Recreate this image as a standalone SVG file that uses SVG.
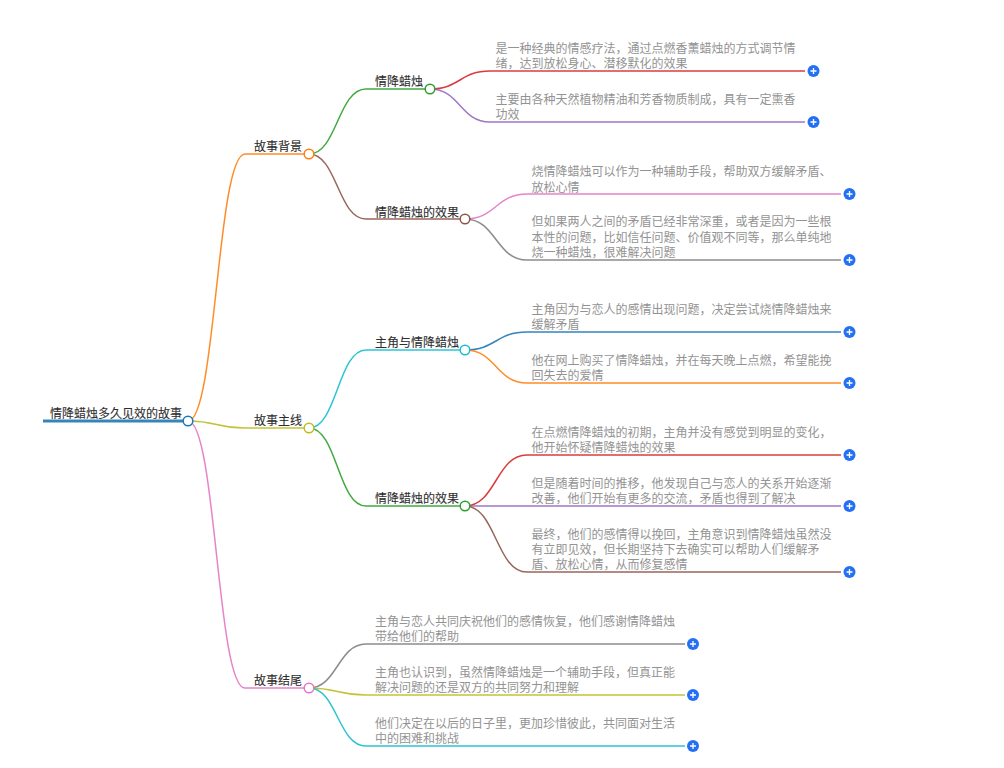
<svg xmlns="http://www.w3.org/2000/svg" width="1004" height="768" viewBox="0 0 1004 768">
<style>
text{font-family:"Noto Sans CJK SC","Liberation Sans",sans-serif;font-size:12px}
.l{fill:#2e2e2e;stroke:#2e2e2e;stroke-width:.1px}
.t{fill:#939393}
#connectors path{fill:none;stroke-width:1.5;stroke-opacity:.9}
circle.n{fill:#fff;stroke-width:1.5}
.p circle{fill:#2470f5}
.p path{stroke:#fff;stroke-width:1.3;fill:none}
</style>
<defs><g id="plus" class="p"><circle r="6"/><path d="M-3 0H3M0-3V3"/></g></defs>
<rect width="1004" height="768" fill="#fff"/>
<g id="connectors">
<path d="M43 421H183" stroke="#1f77b4" style="stroke-width:3"/>
<path d="M188 421C216 421 217 154 245 154H304" stroke="#ff7f0e"/>
<path d="M188 421C216 421 217 428 245 428H304" stroke="#bcbd22"/>
<path d="M188 421C216 421 217 688 245 688H304" stroke="#e377c2"/>
<path d="M309 154C337 154 338 89 366 89H425" stroke="#2ca02c"/>
<path d="M309 154C337 154 338 219 366 219H460" stroke="#8c564b"/>
<path d="M309 428C337 428 338 350 366 350H460" stroke="#17becf"/>
<path d="M309 428C337 428 338 506 366 506H460" stroke="#2ca02c"/>
<path d="M430 89C460 89 460 71 490 71H805" stroke="#d62728"/>
<path d="M430 89C460 89 460 122 490 122H805" stroke="#9467bd"/>
<path d="M465 219C496 219 496 194 527 194H841" stroke="#e377c2"/>
<path d="M465 219C496 219 496 260 527 260H841" stroke="#7f7f7f"/>
<path d="M465 350C496 350 496 332 527 332H841" stroke="#1f77b4"/>
<path d="M465 350C496 350 496 383 527 383H841" stroke="#ff7f0e"/>
<path d="M465 506C496 506 496 455 527 455H841" stroke="#d62728"/>
<path d="M465 506C496 506 496 506 527 506H841" stroke="#9467bd"/>
<path d="M465 506C496 506 496 572 527 572H841" stroke="#8c564b"/>
<path d="M309 688C337 688 338 644 366 644H685" stroke="#7f7f7f"/>
<path d="M309 688C337 688 338 695 366 695H685" stroke="#bcbd22"/>
<path d="M309 688C337 688 338 746 366 746H685" stroke="#17becf"/>
</g>
<g id="root"><text class="l" x="50" y="418">情降蜡烛多久见效的故事</text><circle class="n" cx="188" cy="421" r="4.8" stroke="#1f77b4"/></g>
<g id="n1"><text class="l" x="254" y="151">故事背景</text><circle class="n" cx="309" cy="154" r="4.8" stroke="#ff7f0e"/></g>
<g id="n2"><text class="l" x="254" y="425">故事主线</text><circle class="n" cx="309" cy="428" r="4.8" stroke="#bcbd22"/></g>
<g id="n3"><text class="l" x="254" y="685">故事结尾</text><circle class="n" cx="309" cy="688" r="4.8" stroke="#e377c2"/></g>
<g id="n11"><text class="l" x="375" y="86">情降蜡烛</text><circle class="n" cx="430" cy="89" r="4.8" stroke="#2ca02c"/></g>
<g id="n12"><text class="l" x="375" y="217">情降蜡烛的效果</text><circle class="n" cx="465" cy="219" r="4.8" stroke="#8c564b"/></g>
<g id="n21"><text class="l" x="375" y="347">主角与情降蜡烛</text><circle class="n" cx="465" cy="350" r="4.8" stroke="#17becf"/></g>
<g id="n22"><text class="l" x="375" y="503">情降蜡烛的效果</text><circle class="n" cx="465" cy="506" r="4.8" stroke="#2ca02c"/></g>
<g id="t1"><text class="t" x="495.500" y="53">是一种经典的情感疗法，通过点燃香薰蜡烛的方式调节情</text><text class="t" x="495.500" y="68">绪，达到放松身心、潜移默化的效果</text><use href="#plus" x="813.5" y="71"/></g>
<g id="t2"><text class="t" x="495.500" y="104">主要由各种天然植物精油和芳香物质制成，具有一定熏香</text><text class="t" x="495.500" y="119">功效</text><use href="#plus" x="813.5" y="122"/></g>
<g id="t3"><text class="t" x="531.500" y="176">烧情降蜡烛可以作为一种辅助手段，帮助双方缓解矛盾、</text><text class="t" x="531.500" y="192">放松心情</text><use href="#plus" x="849.5" y="194"/></g>
<g id="t4"><text class="t" x="531.500" y="226">但如果两人之间的矛盾已经非常深重，或者是因为一些根</text><text class="t" x="531.500" y="242">本性的问题，比如信任问题、价值观不同等，那么单纯地</text><text class="t" x="531.500" y="257">烧一种蜡烛，很难解决问题</text><use href="#plus" x="849.5" y="260"/></g>
<g id="t5"><text class="t" x="531.500" y="314">主角因为与恋人的感情出现问题，决定尝试烧情降蜡烛来</text><text class="t" x="531.500" y="329">缓解矛盾</text><use href="#plus" x="849.5" y="332"/></g>
<g id="t6"><text class="t" x="531.500" y="365">他在网上购买了情降蜡烛，并在每天晚上点燃，希望能挽</text><text class="t" x="531.500" y="380">回失去的爱情</text><use href="#plus" x="849.5" y="383"/></g>
<g id="t7"><text class="t" x="531.500" y="437">在点燃情降蜡烛的初期，主角并没有感觉到明显的变化，</text><text class="t" x="531.500" y="452">他开始怀疑情降蜡烛的效果</text><use href="#plus" x="849.5" y="455"/></g>
<g id="t8"><text class="t" x="531.500" y="488">但是随着时间的推移，他发现自己与恋人的关系开始逐渐</text><text class="t" x="531.500" y="503">改善，他们开始有更多的交流，矛盾也得到了解决</text><use href="#plus" x="849.5" y="506"/></g>
<g id="t9"><text class="t" x="531.500" y="539">最终，他们的感情得以挽回，主角意识到情降蜡烛虽然没</text><text class="t" x="531.500" y="554">有立即见效，但长期坚持下去确实可以帮助人们缓解矛</text><text class="t" x="531.500" y="569">盾、放松心情，从而修复感情</text><use href="#plus" x="849.5" y="572"/></g>
<g id="t10"><text class="t" x="375" y="626">主角与恋人共同庆祝他们的感情恢复，他们感谢情降蜡烛</text><text class="t" x="375" y="641">带给他们的帮助</text><use href="#plus" x="693" y="644"/></g>
<g id="t11"><text class="t" x="375" y="677">主角也认识到，虽然情降蜡烛是一个辅助手段，但真正能</text><text class="t" x="375" y="692">解决问题的还是双方的共同努力和理解</text><use href="#plus" x="693" y="695"/></g>
<g id="t12"><text class="t" x="375" y="728">他们决定在以后的日子里，更加珍惜彼此，共同面对生活</text><text class="t" x="375" y="743">中的困难和挑战</text><use href="#plus" x="693" y="746"/></g>
</svg>
